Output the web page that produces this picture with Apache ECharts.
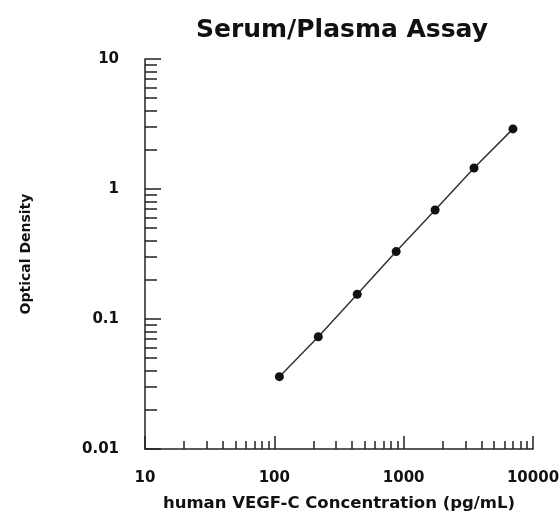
<!DOCTYPE html>
<html>
<head>
<meta charset="utf-8">
<script src="https://cdn.jsdelivr.net/npm/echarts@6/dist/echarts.min.js"></script>
<style>html,body{margin:0;padding:0;background:#fff}#c{width:560px;height:513px}</style>
</head>
<body>
<div id="c"></div>
<script>
const concentration = [109.4, 218.75, 437.5, 875, 1750, 3500, 7000];
const opticalDensity = [0.036, 0.073, 0.155, 0.33, 0.69, 1.45, 2.9];
const xMajorTicks = [10, 100, 1000, 10000];
const xMinorTicks = [20,30,40,50,60,70,80,90,200,300,400,500,600,700,800,900,2000,3000,4000,5000,6000,7000,8000,9000];
const yMajorTicks = [0.01, 0.1, 1, 10];
const yMinorTicks = [0.02,0.03,0.04,0.05,0.06,0.07,0.08,0.09,0.2,0.3,0.4,0.5,0.6,0.7,0.8,0.9,2,3,4,5,6,7,8,9];

const FONT = 'DejaVu Sans';
const lineStyle = {color: '#222', width: 1.5};
const chart = echarts.init(document.getElementById('c'), null, {renderer: 'canvas'});
const fmt = v => String(+(+v).toPrecision(6));

chart.setOption({
  animation: false,
  backgroundColor: '#fff',
  title: {
    text: 'Serum/Plasma Assay',
    left: 337, top: 13, textAlign: 'center',
    textStyle: {fontFamily: FONT, fontWeight: 'bold', fontSize: 25, color: '#111'}
  },
  grid: {left: 145, right: 27, top: 59, bottom: 64, outerBoundsMode: 'none', containLabel: false},
  xAxis: [{
    type: 'log', min: 10, max: 10000, logBase: 10, position: 'bottom',
    name: 'human VEGF-C Concentration (pg/mL)', nameLocation: 'middle', nameGap: 46,
    nameTextStyle: {fontFamily: FONT, fontWeight: 'bold', fontSize: 16.5, color: '#111'},
    axisLine: {show: true, lineStyle: lineStyle},
    axisTick: {show: true, inside: true, length: 13, lineStyle: lineStyle, customValues: xMajorTicks},
    axisLabel: {show: true, margin: 22, customValues: xMajorTicks, formatter: fmt,
      fontFamily: FONT, fontWeight: 'bold', fontSize: 15, color: '#111'},
    splitLine: {show: false}, minorTick: {show: false}
  }, {
    type: 'log', min: 10, max: 10000, logBase: 10, position: 'bottom',
    axisLine: {show: false},
    axisTick: {show: true, inside: true, length: 8, lineStyle: lineStyle, customValues: xMinorTicks},
    axisLabel: {show: false}, splitLine: {show: false}
  }],
  yAxis: [{
    type: 'log', min: 0.01, max: 10, logBase: 10, position: 'left',
    name: 'Optical Density', nameLocation: 'middle', nameGap: 112, nameRotate: 90,
    nameTextStyle: {fontFamily: FONT, fontWeight: 'bold', fontSize: 14, color: '#111'},
    axisLine: {show: true, lineStyle: lineStyle},
    axisTick: {show: true, inside: true, length: 16, lineStyle: lineStyle, customValues: yMajorTicks},
    axisLabel: {show: true, margin: 26, customValues: yMajorTicks, formatter: fmt,
      fontFamily: FONT, fontWeight: 'bold', fontSize: 15, color: '#111'},
    splitLine: {show: false}, minorTick: {show: false}
  }, {
    type: 'log', min: 0.01, max: 10, logBase: 10, position: 'left',
    axisLine: {show: false},
    axisTick: {show: true, inside: true, length: 12, lineStyle: lineStyle, customValues: yMinorTicks},
    axisLabel: {show: false}, splitLine: {show: false}
  }],
  series: [{
    type: 'line', xAxisIndex: 0, yAxisIndex: 0,
    data: concentration.map((c, i) => [c, opticalDensity[i]]),
    symbol: 'circle', symbolSize: 9,
    lineStyle: {color: '#333', width: 1.5},
    itemStyle: {color: '#111'}
  }]
});
</script>
</body>
</html>
